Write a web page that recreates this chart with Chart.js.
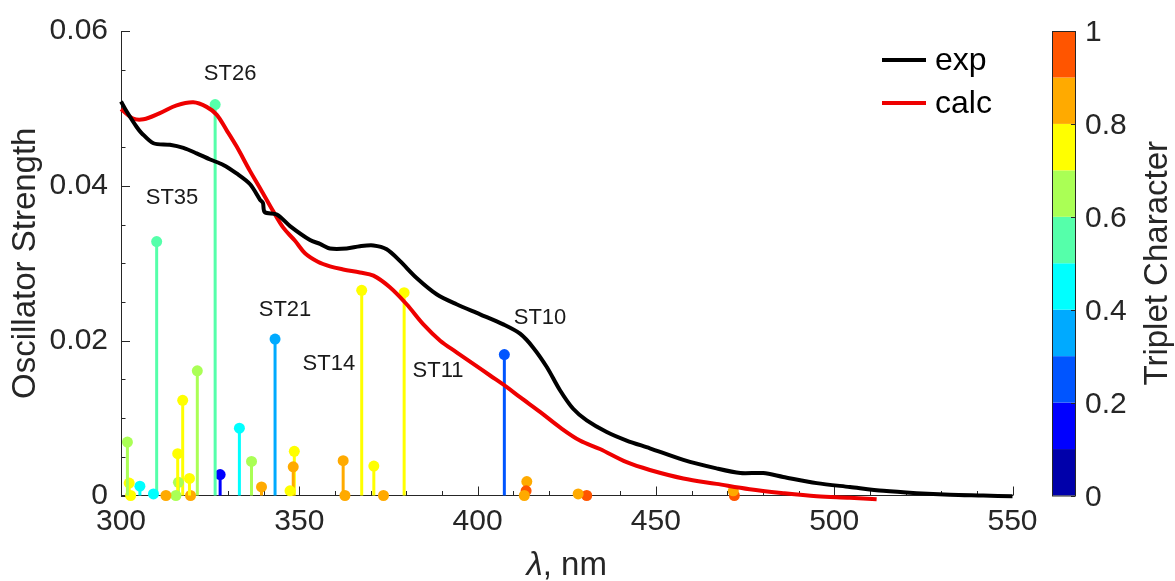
<!DOCTYPE html>
<html>
<head>
<meta charset="utf-8">
<script src="https://cdn.jsdelivr.net/npm/chart.js@4.4.1/dist/chart.umd.min.js"></script>
<style>
  html, body { margin: 0; padding: 0; background: #fff; }
  #caja { width: 1175px; height: 581px; }
</style>
</head>
<body>
<div id="caja"><canvas id="espectro" width="1175" height="581"></canvas></div>
<script>
// espectro experimental
const expNm = [300, 301.6, 304.4, 305.8, 309.1, 313.7, 317.5, 321.2, 325.0, 328.7, 332.4, 336.2, 339.0, 339.8, 340.3,
  343.7, 347.4, 353.0, 355.8, 358.6, 363.3, 367.0, 370.8, 374.5, 378.2, 382.9, 388.5, 394.1, 400.7, 407.2, 411.9,
  415.6, 419.4, 423.1, 426.8, 430.6, 436.2, 441.8, 448.3, 457.7, 467.0, 473.7, 480.1, 485.7, 495.1, 504.4, 513.8,
  523.1, 532.5, 541.8, 550];
const expF = [0.0509, 0.0496, 0.0476, 0.0468, 0.0455, 0.0453, 0.0449, 0.0442, 0.0434, 0.0427, 0.0416, 0.0402, 0.0382, 0.0378, 0.0366,
  0.0363, 0.0348, 0.0330, 0.0325, 0.0319, 0.0319, 0.0322, 0.0323, 0.0318, 0.0303, 0.0281, 0.0260, 0.0247, 0.0234, 0.0221, 0.0209,
  0.0191, 0.0166, 0.0136, 0.0112, 0.0097, 0.0082, 0.0071, 0.0061, 0.0046, 0.0035, 0.0029, 0.0029, 0.0024, 0.0016, 0.0011, 0.0006,
  0.0003, 0.0001, 0.0000, -0.0001];

// espectro calculado
const calcNm = [300, 303.4, 306.3, 310.9, 315.6, 320.3, 324.0, 326.8, 329.6, 332.4, 336.2, 339.0, 342.7, 345.5, 348.8,
  351.6, 355.2, 358.6, 362.3, 367.0, 370.8, 375.4, 380.1, 384.8, 389.5, 394.1, 398.8, 403.5, 408.2, 411.9, 417.5,
  423.1, 428.7, 434.3, 441.8, 448.3, 457.7, 467.0, 476.3, 485.7, 495.1, 504.4, 511.9];
const calcF = [0.0499, 0.0487, 0.0486, 0.0494, 0.0504, 0.0508, 0.0502, 0.0492, 0.0472, 0.0451, 0.0419, 0.0397, 0.0367, 0.0346, 0.0329,
  0.0313, 0.0302, 0.0296, 0.0292, 0.0288, 0.0284, 0.0269, 0.0247, 0.0221, 0.0200, 0.0185, 0.0170, 0.0155, 0.0140, 0.0127, 0.0108,
  0.0088, 0.0071, 0.0060, 0.0043, 0.0033, 0.0022, 0.0015, 0.0008, 0.0003, -0.0001, -0.0003, -0.0005];

// transiciones: longitud de onda, fuerza de oscilador y caracter triplete
const transNm = [301.8, 302.3, 302.7, 305.3, 309.1, 310.0, 312.6, 315.4, 315.9, 316.1, 317.3, 319.2, 319.5, 321.4, 326.4,
  327.8, 333.2, 336.6, 339.4, 343.2, 347.4, 348.3, 348.6, 362.3, 362.8, 367.5, 370.9, 373.6, 379.4, 407.5, 413.1,
  413.6, 413.8, 428.2, 430.6, 471.7, 472.0];
const transF = [0.0069, 0.0016, 0.0000, 0.0012, 0.0002, 0.0328, 0.0000, 0.0000, 0.0054, 0.0017, 0.0123, 0.0022, 0.0000, 0.0161, 0.0505,
  0.0027, 0.0087, 0.0044, 0.0011, 0.0202, 0.0006, 0.0037, 0.0057, 0.0045, 0.0000, 0.0265, 0.0038, 0.0000, 0.0262, 0.0182, 0.0000,
  0.0006, 0.0018, 0.0002, 0.0000, 0.0006, 0.0000];
const transTriplete = [0.65, 0.75, 0.75, 0.45, 0.45, 0.55, 0.85, 0.65, 0.75, 0.65, 0.75, 0.75, 0.85, 0.65, 0.55,
  0.15, 0.45, 0.65, 0.85, 0.35, 0.75, 0.85, 0.75, 0.85, 0.85, 0.75, 0.75, 0.85, 0.75, 0.25, 0.85,
  0.95, 0.85, 0.85, 0.95, 0.85, 0.95];

// nombres de estados y donde van escritos (nm, fuerza)
const estados = ['ST26', 'ST35', 'ST21', 'ST14', 'ST11', 'ST10'];
const estadoNm = [330.6, 314.3, 346.0, 358.3, 388.9, 417.5];
const estadoF = [0.0544, 0.0384, 0.0240, 0.0170, 0.0161, 0.0230];

// ticks
const xTicks = [300, 350, 400, 450, 500, 550];
const yTicks = [0, 0.02, 0.04, 0.06];
const cbTicks = [0, 0.2, 0.4, 0.6, 0.8, 1];

// mapa jet de 10 colores
const jet10 = ['#0000AA', '#0000FF', '#0055FF', '#00AAFF', '#00FFFF', '#55FFAA', '#AAFF55', '#FFFF00', '#FFAA00', '#FF5500'];
const colorTriplete = t => jet10[Math.min(9, Math.floor(t * 10))];

const fuente = '"Liberation Sans", Arial, sans-serif';
const gris = '#262626';
const tamEjes = 30;   // numeros de los ejes
const tamTitulo = 33; // titulos de los ejes

// un dataset por cada transicion (linea vertical + punto arriba)
const datasets = [];
transNm.forEach((nm, i) => {
  const c = colorTriplete(transTriplete[i]);
  datasets.push({
    data: [{ x: nm, y: 0 }, { x: nm, y: transF[i] }],
    borderColor: c,
    borderWidth: 3,
    pointRadius: [0, 5.5],
    pointBackgroundColor: c,
    pointBorderWidth: 0,
    clip: false,
    order: 2
  });
});
datasets.push({
  label: 'calc',
  data: calcNm.map((nm, i) => ({ x: nm, y: calcF[i] })),
  borderColor: '#ee0000',
  borderWidth: 4,
  pointRadius: 0,
  tension: 0.35,
  clip: false,
  order: 1
});
datasets.push({
  label: 'exp',
  data: expNm.map((nm, i) => ({ x: nm, y: expF[i] })),
  borderColor: '#000000',
  borderWidth: 4,
  pointRadius: 0,
  tension: 0.3,
  clip: false,
  order: 0
});

// marcas hacia adentro, leyenda, barra de color y textos
const extras = {
  id: 'extras',
  beforeDatasetsDraw(chart) {
    const { ctx, chartArea: a, scales: { x, y } } = chart;
    ctx.save();
    ctx.strokeStyle = gris;
    ctx.lineWidth = 1;
    for (let v = 300; v <= 550; v += 10) {
      const px = Math.round(x.getPixelForValue(v)) + 0.5;
      const largo = v % 50 === 0 ? 9 : 4.5;
      ctx.beginPath(); ctx.moveTo(px, a.bottom); ctx.lineTo(px, a.bottom - largo); ctx.stroke();
    }
    for (let k = 0; k <= 12; k++) {
      const py = Math.round(y.getPixelForValue(k * 0.005)) + 0.5;
      const largo = k % 4 === 0 ? 9 : 4.5;
      ctx.beginPath(); ctx.moveTo(a.left, py); ctx.lineTo(a.left + largo, py); ctx.stroke();
    }
    ctx.restore();
  },
  afterDraw(chart) {
    const { ctx, chartArea: a, scales: { x, y } } = chart;
    ctx.save();

    // etiquetas de estados
    ctx.fillStyle = '#1a1a1a';
    ctx.font = '22px ' + fuente;
    ctx.textAlign = 'center';
    ctx.textBaseline = 'middle';
    estados.forEach((t, i) => {
      ctx.fillText(t, x.getPixelForValue(estadoNm[i]), y.getPixelForValue(estadoF[i]));
    });

    // leyenda
    const ley = [['exp', '#000000', 60], ['calc', '#ee0000', 103]];
    ctx.font = '32px ' + fuente;
    ctx.textAlign = 'left';
    ley.forEach(([t, c, py]) => {
      ctx.strokeStyle = c;
      ctx.lineWidth = 4;
      ctx.beginPath(); ctx.moveTo(882, py); ctx.lineTo(926, py); ctx.stroke();
      ctx.fillStyle = '#000';
      ctx.fillText(t, 935, py + 1);
    });

    // barra de color
    const cbX = 1052, cbW = 23;
    const cbY = t => a.bottom - t * (a.bottom - a.top);
    jet10.forEach((c, i) => {
      ctx.fillStyle = c;
      ctx.fillRect(cbX, cbY((i + 1) / 10), cbW, cbY(i / 10) - cbY((i + 1) / 10));
    });
    ctx.strokeStyle = gris;
    ctx.lineWidth = 1;
    ctx.strokeRect(cbX + 0.5, a.top + 0.5, cbW, a.bottom - a.top);
    ctx.fillStyle = gris;
    ctx.font = tamEjes + 'px ' + fuente;
    cbTicks.forEach(t => {
      const py = Math.round(cbY(t)) + 0.5;
      ctx.beginPath(); ctx.moveTo(cbX + cbW, py); ctx.lineTo(cbX + cbW - 4, py); ctx.stroke();
      ctx.fillText(t === 0 || t === 1 ? String(t) : t.toFixed(1), 1085, py + 1);
    });

    // titulos de los ejes
    ctx.font = tamTitulo + 'px ' + fuente;
    ctx.save();
    ctx.translate(1158, (a.top + a.bottom) / 2);
    ctx.rotate(-Math.PI / 2);
    ctx.textAlign = 'center';
    ctx.fillText('Triplet Character', 0, 0);
    ctx.restore();

    ctx.save();
    ctx.translate(26, (a.top + a.bottom) / 2);
    ctx.rotate(-Math.PI / 2);
    ctx.textAlign = 'center';
    ctx.fillText('Oscillator Strength', 0, 0);
    ctx.restore();

    // λ en cursiva + ", nm"
    ctx.textAlign = 'left';
    const lam = 'λ', resto = ', nm';
    ctx.font = 'italic ' + tamTitulo + 'px ' + fuente;
    const w1 = ctx.measureText(lam).width;
    ctx.font = tamTitulo + 'px ' + fuente;
    const w2 = ctx.measureText(resto).width;
    const x0 = (a.left + a.right) / 2 - (w1 + w2) / 2;
    ctx.font = 'italic ' + tamTitulo + 'px ' + fuente;
    ctx.fillText(lam, x0, 566);
    ctx.font = tamTitulo + 'px ' + fuente;
    ctx.fillText(resto, x0 + w1, 566);

    ctx.restore();
  }
};

const ctx = document.getElementById('espectro').getContext('2d');
new Chart(ctx, {
  type: 'line',
  data: { datasets },
  options: {
    responsive: false,
    animation: false,
    events: [],
    layout: { padding: { left: 0, right: 162.5, top: 29, bottom: 0 } },
    scales: {
      x: {
        type: 'linear',
        min: 300,
        max: 550,
        afterFit: s => { s.height = 85.5; },
        afterBuildTicks: s => { s.ticks = xTicks.map(v => ({ value: v })); },
        ticks: { color: gris, font: { family: fuente, size: tamEjes }, padding: 8, maxRotation: 0 },
        grid: { display: false, drawTicks: false },
        border: { color: gris, width: 1 }
      },
      y: {
        type: 'linear',
        min: 0,
        max: 0.06,
        afterFit: s => { s.width = 121; },
        afterBuildTicks: s => { s.ticks = yTicks.map(v => ({ value: v })); },
        ticks: {
          color: gris,
          font: { family: fuente, size: tamEjes },
          padding: 13,
          callback: v => (v === 0 ? '0' : v.toFixed(2))
        },
        grid: { display: false, drawTicks: false },
        border: { color: gris, width: 1 }
      }
    },
    plugins: { legend: { display: false }, tooltip: { enabled: false } }
  },
  plugins: [extras]
});
</script>
</body>
</html>
